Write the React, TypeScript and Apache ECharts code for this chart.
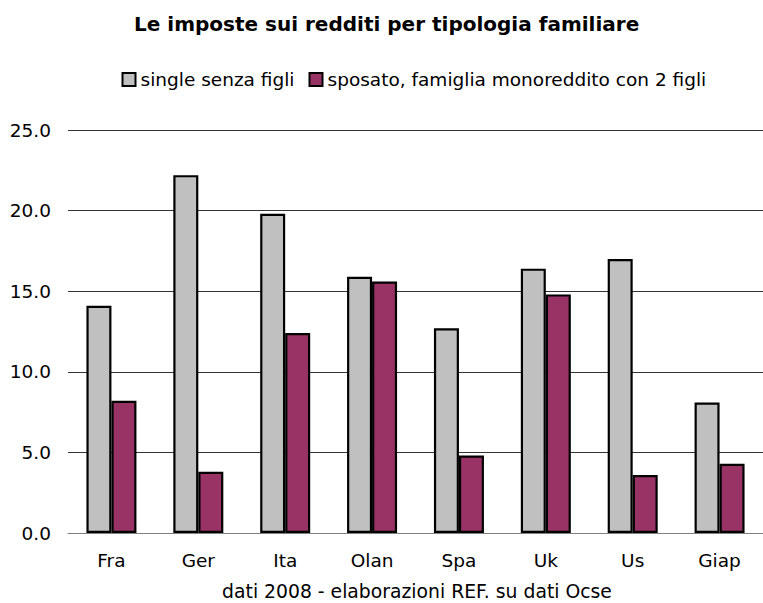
import React, { useEffect, useRef } from "react";
import * as echarts from "echarts";

const categories = ["Fra", "Ger", "Ita", "Olan", "Spa", "Uk", "Us", "Giap"];
const singleValues = [14.1, 22.2, 19.8, 15.9, 12.7, 16.4, 17.0, 8.1];
const sposatoValues = [8.2, 3.8, 12.4, 15.6, 4.8, 14.8, 3.6, 4.3];
const seriesNames = ["single senza figli", "sposato, famiglia monoreddito con 2 figli"];
const titleText = "Le imposte sui redditi per tipologia familiare";
const sourceText = "dati 2008 - elaborazioni REF. su dati Ocse";

const FONT = "'DejaVu Sans', sans-serif";

export default function App() {
  const ref = useRef<HTMLDivElement>(null);
  useEffect(() => {
    if (!ref.current) return;
    const chart = echarts.init(ref.current, undefined, { renderer: "svg" });
    chart.setOption({
      animation: false,
      backgroundColor: "#ffffff",
      textStyle: { fontFamily: FONT, color: "#000" },
      title: {
        text: titleText,
        left: 134,
        top: 14,
        padding: 0,
        textStyle: { fontFamily: FONT, fontWeight: "bold", fontSize: 20, color: "#000" },
      },
      legend: {
        left: 121.5,
        top: 70,
        padding: 0,
        itemGap: 14,
        itemWidth: 13,
        itemHeight: 13,
        icon: "rect",
        itemStyle: { borderColor: "#000", borderWidth: 2 },
        textStyle: { fontFamily: FONT, fontSize: 18.5, color: "#000" },
        data: seriesNames,
      },
      grid: { left: 68, top: 130, width: 699, height: 403, containLabel: false },
      xAxis: {
        type: "category",
        data: categories,
        axisLine: { lineStyle: { color: "#808080", width: 1 } },
        axisTick: { length: 6, lineStyle: { color: "#808080" } },
        axisLabel: { fontFamily: FONT, fontSize: 18.5, color: "#000", margin: 18 },
      },
      yAxis: {
        type: "value",
        min: 0,
        max: 25,
        interval: 5,
        axisLine: { show: false },
        axisTick: { show: false },
        splitLine: { lineStyle: { color: "#333", width: 1 } },
        axisLabel: {
          fontFamily: FONT,
          fontSize: 18.5,
          color: "#000",
          margin: 17,
          formatter: (v: number) => v.toFixed(1),
        },
      },
      graphic: [
        {
          type: "text",
          x: 417,
          y: 591,
          style: {
            text: sourceText,
            fontFamily: FONT,
            fontSize: 18.8,
            fill: "#000",
            textAlign: "center",
            textVerticalAlign: "middle",
          },
        },
      ],
      series: [
        {
          name: seriesNames[0],
          type: "bar",
          data: singleValues,
          barWidth: 25,
          barGap: "0%",
          itemStyle: { color: "#C0C0C0", borderColor: "#000", borderWidth: 2.2 },
        },
        {
          name: seriesNames[1],
          type: "bar",
          data: sposatoValues,
          barWidth: 25,
          barGap: "0%",
          itemStyle: { color: "#993366", borderColor: "#000", borderWidth: 2.2 },
        },
      ],
    });
    return () => chart.dispose();
  }, []);
  return (
    <div
      ref={ref}
      style={{ position: "fixed", left: 0, top: 0, width: 763, height: 603, overflow: "hidden" }}
    />
  );
}
